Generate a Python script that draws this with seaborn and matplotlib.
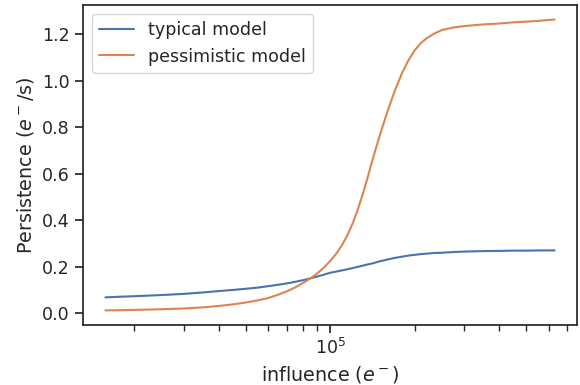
import numpy as np
import pandas as pd
import matplotlib
matplotlib.use("Agg")
import matplotlib.pyplot as plt
import seaborn as sns

influence = [1.58e4, 1.8e4, 2e4, 2.5e4, 3e4, 3.5e4, 4e4, 4.5e4, 5e4, 5.5e4,
             6e4, 6.5e4, 7e4, 7.5e4, 8e4, 8.5e4, 9e4, 9.5e4, 1e5, 1.05e5,
             1.1e5, 1.15e5, 1.2e5, 1.25e5, 1.3e5, 1.35e5, 1.4e5, 1.45e5, 1.5e5,
             1.6e5, 1.7e5, 1.8e5, 1.9e5, 2e5, 2.1e5, 2.2e5, 2.35e5, 2.5e5,
             2.75e5, 3e5, 3.5e5, 4e5, 4.5e5, 5e5, 5.6e5, 6.3e5]
typical = [0.069, 0.072, 0.074, 0.079, 0.084, 0.090, 0.096, 0.101, 0.106, 0.111,
           0.117, 0.123, 0.129, 0.136, 0.143, 0.151, 0.159, 0.167, 0.175, 0.180,
           0.185, 0.190, 0.195, 0.200, 0.205, 0.210, 0.214, 0.219, 0.224,
           0.232, 0.239, 0.244, 0.249, 0.252, 0.255, 0.257, 0.260, 0.261,
           0.264, 0.266, 0.268, 0.269, 0.270, 0.270, 0.271, 0.271]
pessimistic = [0.013, 0.014, 0.015, 0.018, 0.021, 0.026, 0.032, 0.039, 0.047, 0.056,
               0.066, 0.080, 0.095, 0.112, 0.131, 0.151, 0.173, 0.198, 0.226, 0.257,
               0.293, 0.336, 0.386, 0.443, 0.506, 0.573, 0.642, 0.706, 0.765,
               0.870, 0.960, 1.033, 1.089, 1.132, 1.162, 1.183, 1.204, 1.219,
               1.230, 1.236, 1.243, 1.247, 1.252, 1.255, 1.259, 1.264]
labels = ["typical model", "pessimistic model"]

df = pd.DataFrame({
    "influence": influence * 2,
    "persistence": typical + pessimistic,
    "model": [labels[0]] * len(influence) + [labels[1]] * len(influence),
})

sns.set_theme(context="notebook", style="ticks", font_scale=1.15)
fig = plt.figure(figsize=(5.8, 3.85), dpi=100)
ax = fig.add_axes([0.143, 0.156, 0.852, 0.831])
sns.lineplot(data=df, x="influence", y="persistence", hue="model",
             hue_order=labels, ax=ax, linewidth=1.5)
ax.set_xscale("log")
ax.set_xlabel("influence ($e^-$)")
ax.set_ylabel("Persistence ($e^-$/s)")
ax.legend(loc="upper left", title=None)
fig.savefig("out.png", dpi=100)
